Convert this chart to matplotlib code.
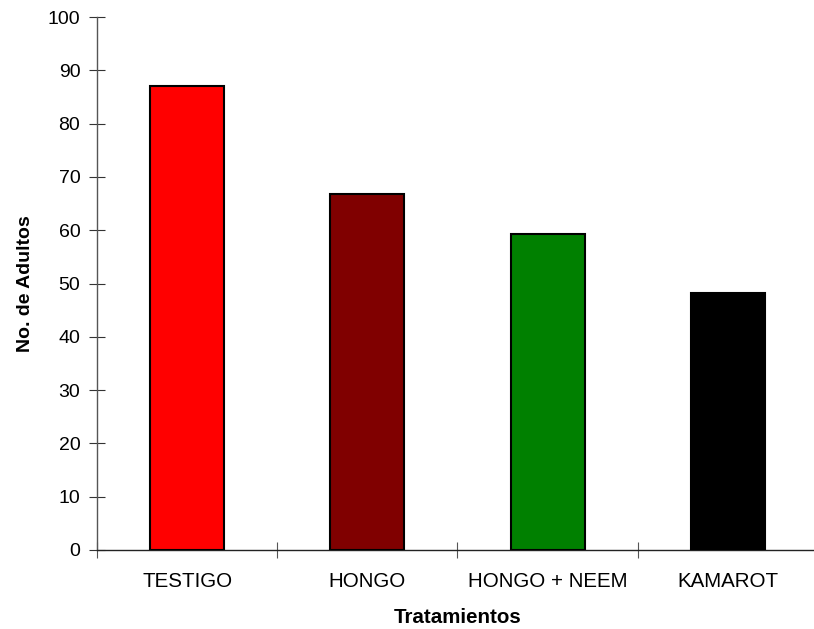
import matplotlib
matplotlib.use("Agg")
import matplotlib.pyplot as plt

categories = ["TESTIGO", "HONGO", "HONGO + NEEM", "KAMAROT"]
values = [87.0, 66.7, 59.3, 48.3]
colors = ["#FF0000", "#800000", "#008000", "#000000"]
yticks = list(range(0, 101, 10))

plt.rcParams['font.family'] = ['Liberation Sans', 'DejaVu Sans']

fig = plt.figure(figsize=(8.14, 6.29), dpi=100)
W, H = 814, 629
left, right, top, bottom = 97, 818, 17, 550
ax = fig.add_axes([left / W, (H - bottom) / H, (right - left) / W, (bottom - top) / H])

x = list(range(len(categories)))
ax.bar(x, values, width=0.41, color=colors, edgecolor="black", linewidth=1.5, zorder=3)

ax.set_xlim(-0.5, len(categories) - 0.5)
ax.set_ylim(0, 100)
ax.set_yticks(yticks)
ax.set_yticklabels([str(v) for v in yticks], fontsize=14)

ax.set_xticks([i - 0.5 for i in range(len(categories))], minor=False)
ax.set_xticklabels([])
ax.set_xticks(x, minor=True)
ax.set_xticklabels(categories, minor=True, fontsize=14.8)
ax.tick_params(axis='x', which='minor', length=0, pad=16)
ax.tick_params(axis='x', which='major', direction='inout', length=12, width=0.8, color='#555555')
ax.tick_params(axis='y', direction='inout', length=12, width=0.8, color='#333333', pad=6)

for s in ['top', 'right']:
    ax.spines[s].set_visible(False)
ax.spines['left'].set_color('#555555')
ax.spines['bottom'].set_color('#222222')
ax.spines['left'].set_linewidth(1.0)
ax.spines['bottom'].set_linewidth(1.0)

ax.set_xlabel("Tratamientos", fontsize=14.8, fontweight='bold', labelpad=12)
ax.set_ylabel("No. de Adultos", fontsize=14, fontweight='bold', labelpad=10)

fig.savefig("out.png", dpi=100)
